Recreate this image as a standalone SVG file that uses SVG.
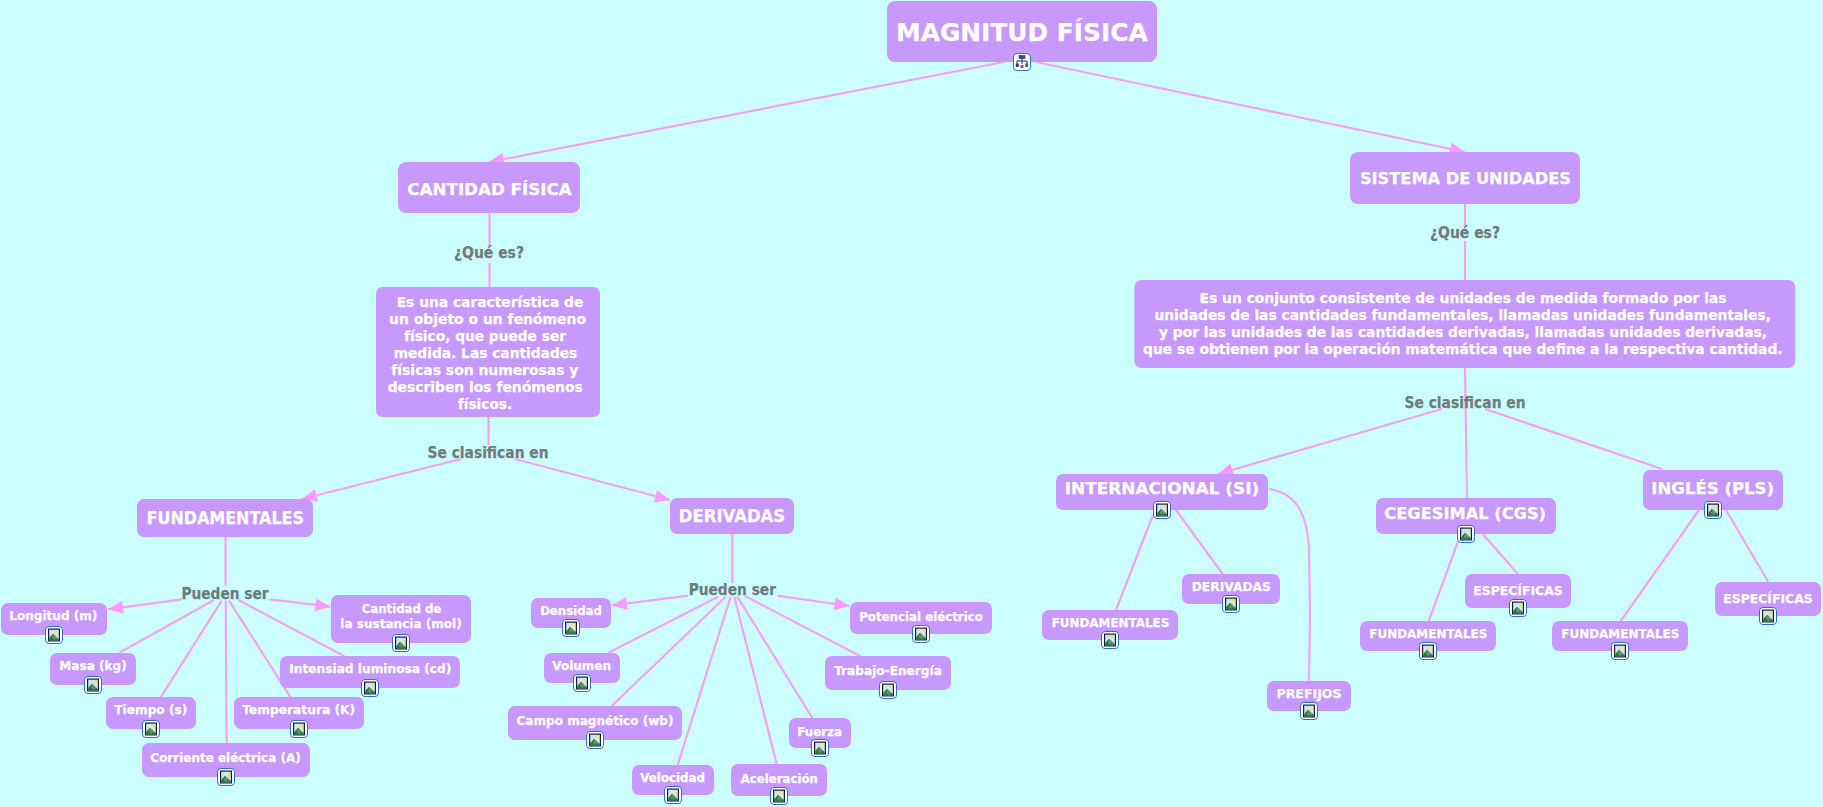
<svg xmlns="http://www.w3.org/2000/svg" xmlns:xlink="http://www.w3.org/1999/xlink" width="1823" height="807" viewBox="0 0 1823 807">
<style>
.n{fill:#c799fe}
text{font-family:"DejaVu Sans","Verdana",sans-serif;font-weight:700;text-anchor:middle;fill:#fff;stroke:#fff;stroke-width:.25px}
.s{font-size:12.5px}.m{font-size:16px}.d{font-size:14px}.e{font-size:13.5px}.r{font-size:25px}.f{font-size:17px}
.l{font-size:15px;fill:#6e7c7a;stroke:#6e7c7a}
.c line,.c path{stroke:#f4a0f4;stroke-width:2.2;fill:none}
.c .a{marker-end:url(#ah)}
</style>
<defs>
<marker id="ah" markerUnits="userSpaceOnUse" markerWidth="17" markerHeight="15" refX="16" refY="7.5" orient="auto"><path d="M1,1 L16,7.5 L1,14 Z" fill="#ff99ff" stroke="none"/></marker>
<symbol id="pic" viewBox="0 0 18 18" overflow="visible">
<rect x="0.5" y="0.5" width="17" height="17" rx="3.5" fill="#fff" stroke="#2f6fc4"/>
<rect x="3" y="2.5" width="12" height="13" fill="#14203c"/>
<rect x="4.2" y="3.7" width="9.6" height="10.6" fill="#d2e4f8"/>
<circle cx="11.5" cy="5.8" r="1.8" fill="#f4e56a"/>
<path d="M4.2,14.3 V12 L8,7.8 L13.8,13 V14.3 Z" fill="#2b7a3c"/>
<path d="M8,9.5 L12,12.5 M7,11 L10,13.5" stroke="#a8d8a0" stroke-width="0.7" fill="none"/>
</symbol>
<symbol id="map" viewBox="0 0 18 18" overflow="visible">
<rect x="0.5" y="0.5" width="17" height="17" rx="3.5" fill="#fff" stroke="#2f6fc4"/>
<path d="M9,5 V11 M4,11 V8 H14 V11" stroke="#1c2a58" stroke-width="1" fill="none"/>
<rect x="6" y="2.5" width="6" height="3" fill="#33518f" stroke="#1c2a58" stroke-width="0.6"/>
<rect x="2.8" y="10.5" width="3" height="3.5" fill="#2a3a80"/>
<rect x="7.5" y="12" width="3" height="3" fill="#a04a6a"/>
<rect x="12.2" y="10.5" width="3" height="3.5" fill="#2f7a50"/>
</symbol>
</defs>
<rect width="1823" height="807" fill="#ccffff"/>
<g id="connectors" class="c">
<line class="a" x1="1004" y1="62" x2="489" y2="162"/>
<line class="a" x1="1036" y1="62" x2="1465" y2="152"/>
<line x1="489.5" y1="213" x2="489.5" y2="246"/>
<line x1="489.5" y1="263" x2="489.5" y2="287"/>
<line x1="488.5" y1="417" x2="488.5" y2="445"/>
<line class="a" x1="461" y1="459" x2="302" y2="499"/>
<line class="a" x1="515" y1="459" x2="670" y2="500"/>
<line x1="225.5" y1="537" x2="225.5" y2="586"/>
<line class="a" x1="181.7" y1="599.3" x2="108" y2="609.3"/>
<line class="a" x1="269.3" y1="599.3" x2="330.5" y2="606.7"/>
<line x1="214" y1="600" x2="119.3" y2="652.7"/>
<line x1="221.7" y1="600.7" x2="160.7" y2="697.3"/>
<line x1="225.7" y1="600.7" x2="226.7" y2="743.3"/>
<line x1="229" y1="600.7" x2="290.7" y2="697.3"/>
<line x1="238.3" y1="600" x2="344" y2="656"/>
<line x1="732.3" y1="534" x2="732.3" y2="583"/>
<line class="a" x1="688.3" y1="595.7" x2="612" y2="605.3"/>
<line class="a" x1="777.3" y1="595.7" x2="849.5" y2="606"/>
<line x1="718.3" y1="596.7" x2="608.3" y2="652.7"/>
<line x1="725.7" y1="596.7" x2="611.7" y2="706"/>
<line x1="730.7" y1="596.7" x2="677.7" y2="765"/>
<line x1="734.3" y1="596.7" x2="776.7" y2="764"/>
<line x1="737.3" y1="596.7" x2="812.3" y2="718"/>
<line x1="745" y1="596" x2="860" y2="656"/>
<line x1="1465" y1="204" x2="1465" y2="226"/>
<line x1="1465" y1="241" x2="1465" y2="280"/>
<line x1="1465" y1="368" x2="1467" y2="498"/>
<line class="a" x1="1442" y1="409" x2="1218" y2="474"/>
<line x1="1485" y1="409" x2="1662" y2="469"/>
<line x1="1153" y1="515" x2="1116" y2="610"/>
<line x1="1176" y1="510" x2="1222.7" y2="574"/>
<path d="M1269,489 C1290,492 1307,505 1309,550 L1310,613 L1309,681"/>
<line x1="1482.7" y1="534" x2="1518" y2="574"/>
<line x1="1458" y1="541.7" x2="1428.7" y2="621"/>
<line x1="1699" y1="510" x2="1620.7" y2="621"/>
<line x1="1726" y1="510" x2="1768.3" y2="582"/>
</g>
<g id="labels">
<text class="l" x="489" y="258" textLength="70" lengthAdjust="spacingAndGlyphs">¿Qué es?</text>
<text class="l" x="488" y="457.7" textLength="121" lengthAdjust="spacingAndGlyphs">Se clasifican en</text>
<text class="l" x="225" y="599" textLength="87" lengthAdjust="spacingAndGlyphs">Pueden ser</text>
<text class="l" x="732.3" y="594.7" textLength="87.3" lengthAdjust="spacingAndGlyphs">Pueden ser</text>
<text class="l" x="1465" y="237.7" textLength="70" lengthAdjust="spacingAndGlyphs">¿Qué es?</text>
<text class="l" x="1465" y="407.7" textLength="121" lengthAdjust="spacingAndGlyphs">Se clasifican en</text>
</g>
<g id="n-root"><rect class="n" x="887" y="1" width="270" height="61" rx="8"/><text class="r" x="1021.8" y="40.7" textLength="251.7" lengthAdjust="spacingAndGlyphs">MAGNITUD FÍSICA</text><use href="#map" x="1013" y="53" width="18" height="18"/></g>
<g id="n-cantidad"><rect class="n" x="398" y="162" width="182" height="51" rx="8"/><text class="m" x="489.5" y="195" textLength="164.4" lengthAdjust="spacingAndGlyphs">CANTIDAD FÍSICA</text></g>
<g id="n-sistema"><rect class="n" x="1350" y="152" width="230" height="52" rx="8"/><text class="m" x="1465.4" y="183.7" textLength="211" lengthAdjust="spacingAndGlyphs">SISTEMA DE UNIDADES</text></g>
<g id="n-desc-cantidad"><rect class="n" x="376" y="287" width="224" height="130" rx="7"/>
<text class="d" x="490" y="306.7" textLength="186.6" lengthAdjust="spacingAndGlyphs">Es una característica de</text>
<text class="d" x="487.5" y="323.7" textLength="197" lengthAdjust="spacingAndGlyphs">un objeto o un fenómeno</text>
<text class="d" x="485" y="340.7" textLength="162" lengthAdjust="spacingAndGlyphs">físico, que puede ser</text>
<text class="d" x="485.5" y="357.7" textLength="183.6" lengthAdjust="spacingAndGlyphs">medida. Las cantidades</text>
<text class="d" x="484.8" y="374.7" textLength="187" lengthAdjust="spacingAndGlyphs">físicas son numerosas y</text>
<text class="d" x="485.2" y="391.7" textLength="195" lengthAdjust="spacingAndGlyphs">describen los fenómenos</text>
<text class="d" x="485" y="408.7" textLength="54.3" lengthAdjust="spacingAndGlyphs">físicos.</text></g>
<g id="n-desc-sistema"><rect class="n" x="1134.3" y="280" width="661" height="88" rx="7"/>
<text class="e" x="1463" y="302.7" textLength="527" lengthAdjust="spacingAndGlyphs">Es un conjunto consistente de unidades de medida formado por las</text>
<text class="e" x="1462.7" y="320" textLength="616.5" lengthAdjust="spacingAndGlyphs">unidades de las cantidades fundamentales, llamadas unidades fundamentales,</text>
<text class="e" x="1463" y="337" textLength="608" lengthAdjust="spacingAndGlyphs">y por las unidades de las cantidades derivadas, llamadas unidades derivadas,</text>
<text class="e" x="1462.8" y="354" textLength="639.5" lengthAdjust="spacingAndGlyphs">que se obtienen por la operación matemática que define a la respectiva cantidad.</text></g>
<g id="n-fundamentales"><rect class="n" x="137" y="499" width="176" height="38" rx="7"/><text class="f" x="225.3" y="524" textLength="157.3" lengthAdjust="spacingAndGlyphs">FUNDAMENTALES</text></g>
<g id="n-derivadas"><rect class="n" x="670" y="498" width="124" height="36" rx="7"/><text class="f" x="732" y="522" textLength="106.3" lengthAdjust="spacingAndGlyphs">DERIVADAS</text></g>
<g id="n-longitud"><rect class="n" x="1" y="603" width="106" height="32" rx="7"/><text class="s" x="53.3" y="620" textLength="88" lengthAdjust="spacingAndGlyphs">Longitud (m)</text><use href="#pic" x="45" y="626" width="18" height="18"/></g>
<g id="n-masa"><rect class="n" x="50" y="653" width="86" height="32" rx="7"/><text class="s" x="93" y="670" textLength="67.3" lengthAdjust="spacingAndGlyphs">Masa (kg)</text><use href="#pic" x="84" y="676" width="18" height="18"/></g>
<g id="n-tiempo"><rect class="n" x="106" y="697" width="90" height="32" rx="7"/><text class="s" x="150.8" y="714" textLength="73" lengthAdjust="spacingAndGlyphs">Tiempo (s)</text><use href="#pic" x="142" y="720" width="18" height="18"/></g>
<g id="n-corriente"><rect class="n" x="142" y="743" width="168" height="34" rx="7"/><text class="s" x="225.5" y="762" textLength="150.3" lengthAdjust="spacingAndGlyphs">Corriente eléctrica (A)</text><use href="#pic" x="217" y="768" width="18" height="18"/></g>
<g id="n-temperatura"><rect class="n" x="234" y="697" width="130" height="32" rx="7"/><text class="s" x="298.7" y="714" textLength="112.7" lengthAdjust="spacingAndGlyphs">Temperatura (K)</text><use href="#pic" x="290" y="720" width="18" height="18"/></g>
<g id="n-intensidad"><rect class="n" x="280" y="656" width="180" height="32" rx="7"/><text class="s" x="370.3" y="673.3" textLength="162" lengthAdjust="spacingAndGlyphs">Intensiad luminosa (cd)</text><use href="#pic" x="361" y="679" width="18" height="18"/></g>
<g id="n-sustancia"><rect class="n" x="331" y="595" width="140" height="48" rx="7"/><text class="s" x="401.5" y="613.3" textLength="79.7" lengthAdjust="spacingAndGlyphs">Cantidad de</text><text class="s" x="401" y="628" textLength="121.3" lengthAdjust="spacingAndGlyphs">la sustancia (mol)</text><use href="#pic" x="392" y="634" width="18" height="18"/></g>
<g id="n-densidad"><rect class="n" x="531" y="598" width="80" height="30" rx="7"/><text class="s" x="571" y="615" textLength="61.7" lengthAdjust="spacingAndGlyphs">Densidad</text><use href="#pic" x="562" y="619" width="18" height="18"/></g>
<g id="n-volumen"><rect class="n" x="544" y="653" width="76" height="30" rx="7"/><text class="s" x="581.7" y="670" textLength="58.7" lengthAdjust="spacingAndGlyphs">Volumen</text><use href="#pic" x="573" y="674" width="18" height="18"/></g>
<g id="n-campo"><rect class="n" x="508" y="706" width="174" height="34" rx="7"/><text class="s" x="595" y="725" textLength="157" lengthAdjust="spacingAndGlyphs">Campo magnético (wb)</text><use href="#pic" x="586" y="731" width="18" height="18"/></g>
<g id="n-velocidad"><rect class="n" x="632" y="765" width="82" height="30" rx="7"/><text class="s" x="672.7" y="782" textLength="64.7" lengthAdjust="spacingAndGlyphs">Velocidad</text><use href="#pic" x="664" y="786" width="18" height="18"/></g>
<g id="n-aceleracion"><rect class="n" x="731" y="764" width="96" height="32" rx="7"/><text class="s" x="779.3" y="782.7" textLength="77.3" lengthAdjust="spacingAndGlyphs">Aceleración</text><use href="#pic" x="770" y="787" width="18" height="18"/></g>
<g id="n-fuerza"><rect class="n" x="789" y="718" width="62" height="30" rx="7"/><text class="s" x="819.7" y="736" textLength="44.7" lengthAdjust="spacingAndGlyphs">Fuerza</text><use href="#pic" x="811" y="739" width="18" height="18"/></g>
<g id="n-trabajo"><rect class="n" x="825" y="656" width="126" height="34" rx="7"/><text class="s" x="888" y="674.7" textLength="107.7" lengthAdjust="spacingAndGlyphs">Trabajo-Energía</text><use href="#pic" x="879" y="681" width="18" height="18"/></g>
<g id="n-potencial"><rect class="n" x="850" y="602" width="142" height="32" rx="7"/><text class="s" x="921" y="620.7" textLength="123.7" lengthAdjust="spacingAndGlyphs">Potencial eléctrico</text><use href="#pic" x="912" y="625" width="18" height="18"/></g>
<g id="n-si"><rect class="n" x="1056" y="474" width="212" height="36" rx="7"/><text class="m" x="1162" y="494" textLength="194.3" lengthAdjust="spacingAndGlyphs">INTERNACIONAL (SI)</text><use href="#pic" x="1153" y="501" width="18" height="18"/></g>
<g id="n-cgs"><rect class="n" x="1376" y="498" width="180" height="36" rx="7"/><text class="m" x="1465.2" y="518.7" textLength="161.7" lengthAdjust="spacingAndGlyphs">CEGESIMAL (CGS)</text><use href="#pic" x="1457" y="525" width="18" height="18"/></g>
<g id="n-pls"><rect class="n" x="1643" y="470" width="140" height="40" rx="7"/><text class="m" x="1712.7" y="494" textLength="122.7" lengthAdjust="spacingAndGlyphs">INGLÉS (PLS)</text><use href="#pic" x="1704" y="501" width="18" height="18"/></g>
<g id="n-si-fund"><rect class="n" x="1042" y="610" width="136" height="30" rx="7"/><text class="s" x="1110.5" y="626.7" textLength="117.7" lengthAdjust="spacingAndGlyphs">FUNDAMENTALES</text><use href="#pic" x="1101" y="631" width="18" height="18"/></g>
<g id="n-si-der"><rect class="n" x="1182" y="574" width="98" height="30" rx="7"/><text class="s" x="1231.3" y="590.7" textLength="79.3" lengthAdjust="spacingAndGlyphs">DERIVADAS</text><use href="#pic" x="1222" y="595" width="18" height="18"/></g>
<g id="n-si-pre"><rect class="n" x="1267" y="681" width="84" height="30" rx="7"/><text class="s" x="1309" y="697.7" textLength="65" lengthAdjust="spacingAndGlyphs">PREFIJOS</text><use href="#pic" x="1300" y="702" width="18" height="18"/></g>
<g id="n-cgs-esp"><rect class="n" x="1465" y="574" width="106" height="34" rx="7"/><text class="s" x="1518" y="595.3" textLength="89.4" lengthAdjust="spacingAndGlyphs">ESPECÍFICAS</text><use href="#pic" x="1509" y="599" width="18" height="18"/></g>
<g id="n-cgs-fund"><rect class="n" x="1360" y="621" width="136" height="30" rx="7"/><text class="s" x="1428.3" y="638.3" textLength="118" lengthAdjust="spacingAndGlyphs">FUNDAMENTALES</text><use href="#pic" x="1419" y="642" width="18" height="18"/></g>
<g id="n-pls-fund"><rect class="n" x="1552" y="621" width="136" height="30" rx="7"/><text class="s" x="1620.3" y="638.3" textLength="118" lengthAdjust="spacingAndGlyphs">FUNDAMENTALES</text><use href="#pic" x="1611" y="642" width="18" height="18"/></g>
<g id="n-pls-esp"><rect class="n" x="1715" y="582" width="106" height="34" rx="7"/><text class="s" x="1768" y="603.3" textLength="89.4" lengthAdjust="spacingAndGlyphs">ESPECÍFICAS</text><use href="#pic" x="1759" y="607" width="18" height="18"/></g>
</svg>
